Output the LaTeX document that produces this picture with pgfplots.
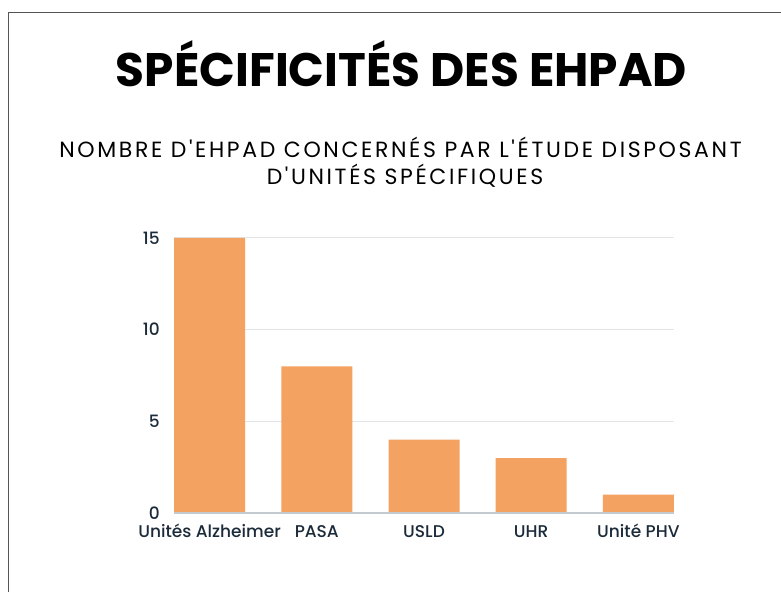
\documentclass[border=0pt]{standalone}
\usepackage{pgfplots}
\pgfplotsset{compat=1.18}
\usepackage{fontspec}
\setmainfont{Poppins}
\newfontfamily\subfont[LetterSpace=12]{Poppins}
\newfontfamily\medfont{Poppins Medium}
\definecolor{barc}{HTML}{F4A261}
\definecolor{gridc}{HTML}{E2E5E7}
\definecolor{basec}{HTML}{C3CACD}
\definecolor{txt}{HTML}{1C2B3A}
\definecolor{framec}{HTML}{555555}
\begin{document}
\begin{tikzpicture}[x=1pt,y=1pt]
\fill[white] (0,0) rectangle (781,592);
\draw[framec, line width=1pt] (8.5,0) -- (8.5,579.5) -- (781,579.5);
\node[anchor=base, inner sep=0pt, font=\fontsize{47}{52}\selectfont\bfseries] at (401.5,505.3) {SPÉCIFICITÉS DES EHPAD};
\node[anchor=base, inner sep=0pt, font=\fontsize{22}{26}\subfont] at (400.5,434.3) {NOMBRE D'EHPAD CONCERNÉS PAR L'ÉTUDE DISPOSANT};
\node[anchor=base, inner sep=0pt, font=\fontsize{22}{26}\subfont] at (405,407.5) {D'UNITÉS SPÉCIFIQUES};
\begin{axis}[
  at={(174pt,79pt)}, anchor=south west,
  scale only axis, width=500pt, height=275pt,
  xmin=-0.332, xmax=4.332, ymin=0, ymax=15,
  axis line style={draw=none},
  ytick={0,5,10,15},
  xtick={0,1,2,3,4},
  xticklabels={Unités Alzheimer, PASA, USLD, UHR, Unité PHV},
  major tick length=0pt,
  ymajorgrids, grid style={gridc, line width=1pt},
  /pgf/number format/assume math mode=true,
  yticklabel style={anchor=east, inner sep=0pt, xshift=-14pt, font=\fontsize{17}{20}\medfont, text=txt},
  xticklabel style={anchor=base, inner sep=0pt, yshift=-24.7pt, font=\fontsize{17}{20}\medfont, text=txt},
  clip=false,
]
\addplot[ybar, bar width=71pt, fill=barc, draw=none] coordinates {(0,15) (1,8) (2,4) (3,3) (4,1)};
\draw[basec, line width=1.5pt] (axis cs:-0.332,0) -- (axis cs:4.332,0);
\end{axis}
\pgfresetboundingbox
\path[use as bounding box] (0,0) rectangle (781,592);
\end{tikzpicture}
\end{document}
